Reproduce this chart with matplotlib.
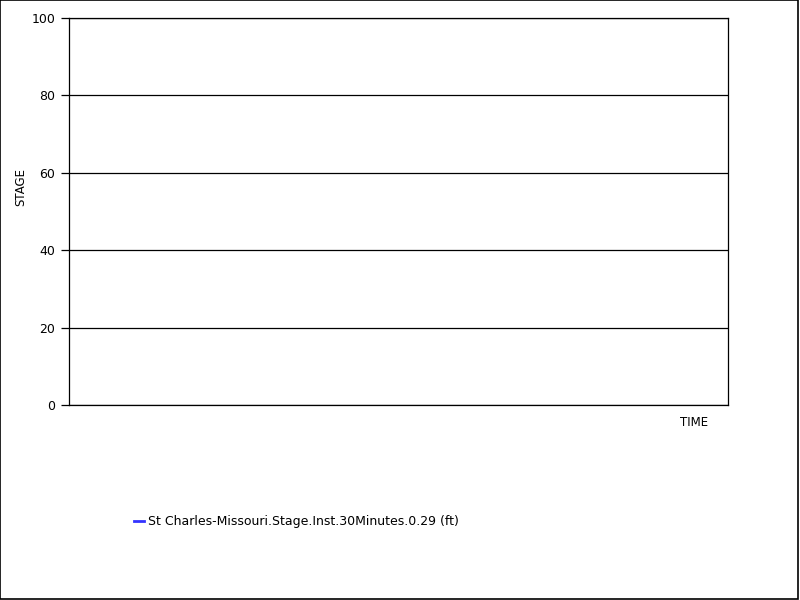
import matplotlib.pyplot as plt
from matplotlib.patches import Rectangle

# series has no data points in the reference
times = []
stages = []
series_name = "St Charles-Missouri.Stage.Inst.30Minutes.0.29 (ft)"
y_ticks = [0, 20, 40, 60, 80, 100]

fig = plt.figure(figsize=(8, 6), dpi=100)
fig.patches.append(Rectangle((0.0006, 0.0017), 0.9969, 0.9975, transform=fig.transFigure,
                             fill=False, edgecolor="black", linewidth=1.2))

ax = fig.add_axes([69 / 800, 1 - 405 / 600, (728 - 69) / 800, (405 - 18) / 600])
line, = ax.plot(times, stages, color="#3333ff", linewidth=2, label=series_name)

ax.set_ylim(0, 100)
ax.set_xlim(0, 1)
ax.set_yticks(y_ticks)
ax.set_xticks([])
ax.yaxis.grid(True, color="black", linewidth=0.9)
ax.set_axisbelow(True)
for s in ax.spines.values():
    s.set_linewidth(0.9)
ax.tick_params(axis="y", length=6, width=0.9, labelsize=9, pad=4)

fig.text(694 / 800, 1 - 423 / 600, "TIME", ha="center", va="center", fontsize=8.5)
fig.text(21 / 800, 1 - 187 / 600, "STAGE", ha="center", va="center", rotation=90, fontsize=8.5)

fig.legend(handles=[line], loc="center left", bbox_to_anchor=(123 / 800, 1 - 522 / 600),
           frameon=False, fontsize=9, handlelength=0.8, handletextpad=0.3)

fig.savefig("out.png", dpi=100)
